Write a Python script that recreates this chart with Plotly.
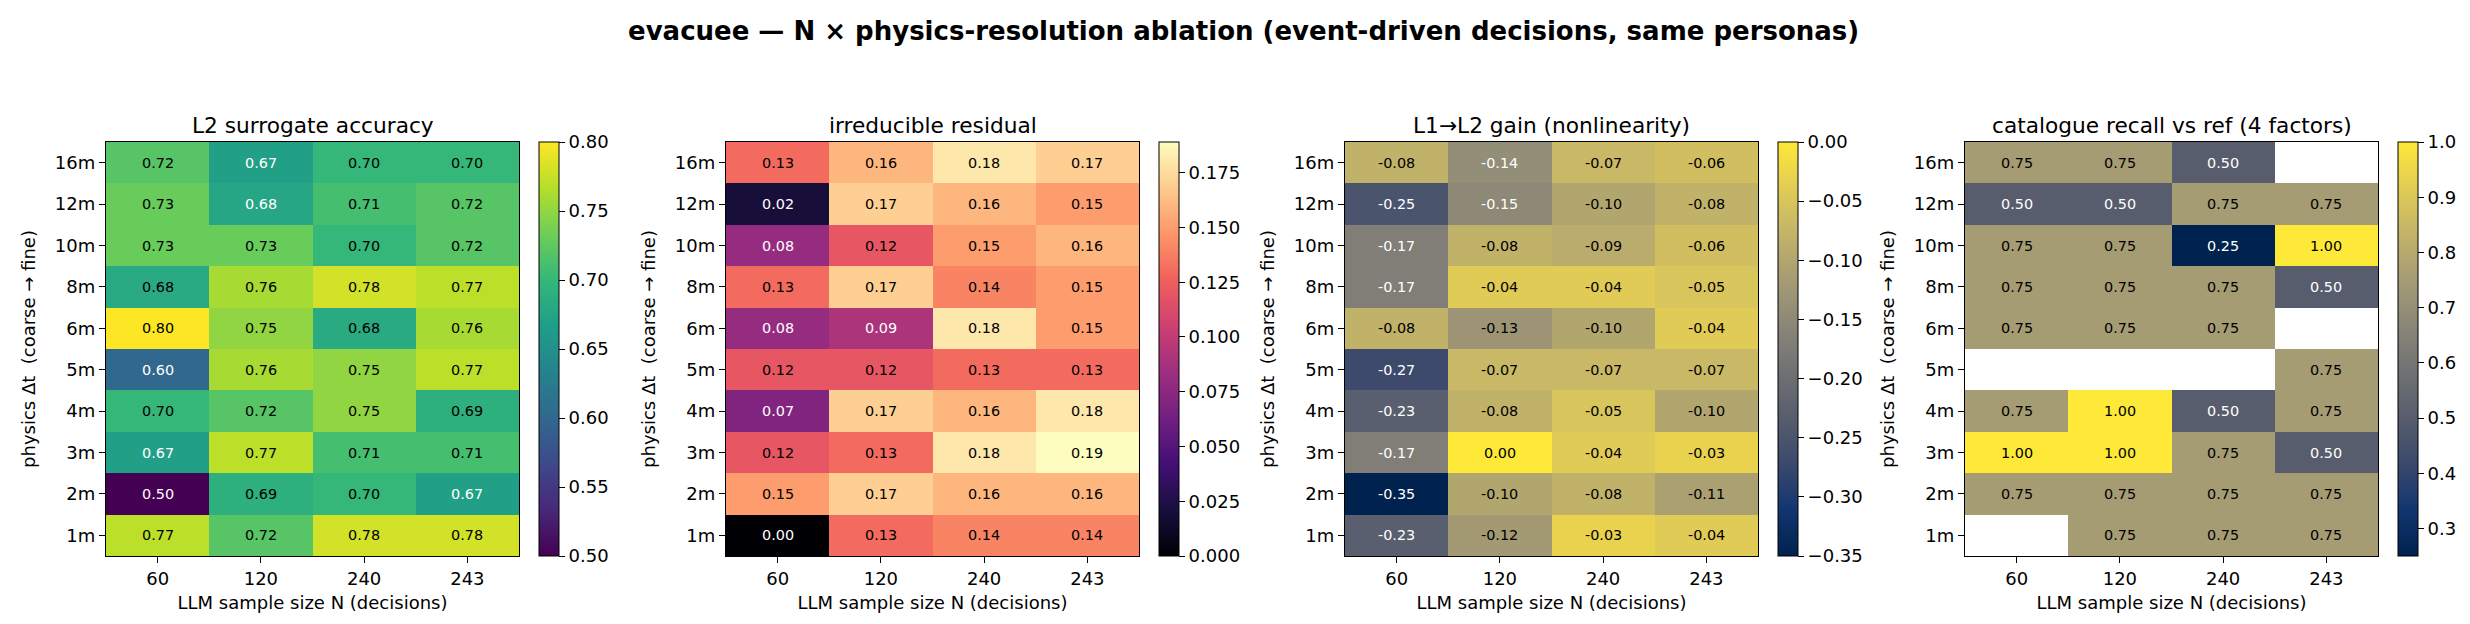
import plotly.graph_objects as go

# categories
n_values = ['60', '120', '240', '243']
dt_labels = ['16m', '12m', '10m', '8m', '6m', '5m', '4m', '3m', '2m', '1m']

# series values, rows top (16m) -> bottom (1m), columns N = 60, 120, 240, 243
l2_accuracy = [
    [0.72, 0.67, 0.70, 0.70],
    [0.73, 0.677, 0.71, 0.72],
    [0.73, 0.73, 0.70, 0.72],
    [0.682, 0.76, 0.78, 0.77],
    [0.80, 0.75, 0.683, 0.76],
    [0.60, 0.76, 0.75, 0.77],
    [0.70, 0.72, 0.75, 0.69],
    [0.67, 0.77, 0.71, 0.71],
    [0.50, 0.69, 0.70, 0.67],
    [0.77, 0.72, 0.78, 0.78],
]
residual = [
    [0.13, 0.16, 0.18, 0.17],
    [0.02, 0.17, 0.16, 0.15],
    [0.08, 0.12, 0.15, 0.16],
    [0.13, 0.17, 0.14, 0.15],
    [0.08, 0.09, 0.18, 0.15],
    [0.12, 0.12, 0.13, 0.13],
    [0.07, 0.17, 0.16, 0.18],
    [0.12, 0.13, 0.18, 0.189],
    [0.15, 0.17, 0.16, 0.16],
    [0.00, 0.13, 0.14, 0.14],
]
l1_l2_gain = [
    [-0.08, -0.142, -0.07, -0.06],
    [-0.25, -0.15, -0.10, -0.08],
    [-0.17, -0.08, -0.09, -0.06],
    [-0.17, -0.04, -0.04, -0.05],
    [-0.08, -0.13, -0.10, -0.04],
    [-0.27, -0.07, -0.07, -0.07],
    [-0.23, -0.08, -0.05, -0.10],
    [-0.17, 0.00, -0.04, -0.03],
    [-0.35, -0.10, -0.08, -0.11],
    [-0.23, -0.12, -0.03, -0.04],
]
recall = [
    [0.75, 0.75, 0.50, None],
    [0.50, 0.50, 0.75, 0.75],
    [0.75, 0.75, 0.25, 1.00],
    [0.75, 0.75, 0.75, 0.50],
    [0.75, 0.75, 0.75, None],
    [None, None, None, 0.75],
    [0.75, 1.00, 0.50, 0.75],
    [1.00, 1.00, 0.75, 0.50],
    [0.75, 0.75, 0.75, 0.75],
    [None, 0.75, 0.75, 0.75],
]

panels = [
    ('L2 surrogate accuracy', l2_accuracy, 'Viridis', '.2f', 0.05),
    ('irreducible residual', residual, 'Magma', '.3f', 0.025),
    ('L1→L2 gain (nonlinearity)', l1_l2_gain, 'Cividis', '.2f', 0.05),
    ('catalogue recall vs ref (4 factors)', recall, 'Cividis', '.1f', 0.1),
]

W, H = 2470, 624
FONT = 'DejaVu Sans'
left_px = [98, 718, 1337, 1957]
plot_w = 413
top_px, bottom_px = 134, 548

fig = go.Figure()
annotations = []

for i, (title, z, cscale, fmt, step) in enumerate(panels):
    ax = '' if i == 0 else str(i + 1)
    x0 = left_px[i] / W
    x1 = (left_px[i] + plot_w) / W
    y0 = 1 - bottom_px / H
    y1 = 1 - top_px / H

    flat = [v for row in z for v in row if v is not None]
    zmin, zmax = min(flat), max(flat)

    fig.add_trace(go.Heatmap(
        z=z, x=n_values, y=dt_labels, colorscale=cscale,
        zmin=zmin, zmax=zmax,
        xaxis='x' + ax, yaxis='y' + ax, hoverongaps=False,
        colorbar=dict(
            x=(left_px[i] + plot_w + 20) / W, xanchor='left', xpad=0,
            y=(y0 + y1) / 2, yanchor='middle', ypad=0,
            len=y1 - y0, lenmode='fraction', thickness=20, thicknessmode='pixels',
            outlinewidth=1, outlinecolor='black',
            ticks='outside', ticklen=6, tickcolor='black',
            tick0=0, dtick=step, tickformat=fmt,
            tickfont=dict(family=FONT, size=18, color='black'),
        ),
    ))

    axis_common = dict(showline=True, linecolor='black', linewidth=1.3, mirror=True,
                       ticks='outside', ticklen=6, tickcolor='black',
                       tickfont=dict(family=FONT, size=18, color='black'),
                       showgrid=False, zeroline=False, type='category', fixedrange=True)
    fig.update_layout({
        'xaxis' + ax: dict(axis_common, domain=[x0, x1], anchor='y' + ax, range=[-0.5, 3.5],
                           title=dict(text='LLM sample size N (decisions)', standoff=8,
                                      font=dict(family=FONT, size=18, color='black'))),
        'yaxis' + ax: dict(axis_common, domain=[y0, y1], anchor='x' + ax, range=[9.5, -0.5],
                           title=dict(text='physics Δt  (coarse → fine)', standoff=14,
                                      font=dict(family=FONT, size=18, color='black'))),
    })

    annotations.append(dict(
        text=title, x=(x0 + x1) / 2, y=1 - 117 / H, xref='paper', yref='paper',
        xanchor='center', yanchor='middle', showarrow=False,
        font=dict(family=FONT, size=21.7, color='black')))

    # cell labels, placed by category index
    for r, row in enumerate(z):
        for c, v in enumerate(row):
            if v is None:
                continue
            norm = (v - zmin) / (zmax - zmin)
            annotations.append(dict(
                text=f'{v:.2f}', x=c, y=r,
                xref='x' + ax, yref='y' + ax, showarrow=False,
                font=dict(family=FONT, size=14.4, color='white' if norm < 0.6 else 'black')))

annotations.append(dict(
    text='<b>evacuee — N × physics-resolution ablation (event-driven decisions, same personas)</b>',
    x=0.5, y=1 - 23 / H, xref='paper', yref='paper', xanchor='center', yanchor='middle',
    showarrow=False, font=dict(family=FONT, size=26, color='black')))

fig.update_layout(
    width=W, height=H,
    margin=dict(l=0, r=0, t=0, b=0),
    paper_bgcolor='white', plot_bgcolor='white',
    annotations=annotations,
    showlegend=False,
)

fig.write_html('out.html')
